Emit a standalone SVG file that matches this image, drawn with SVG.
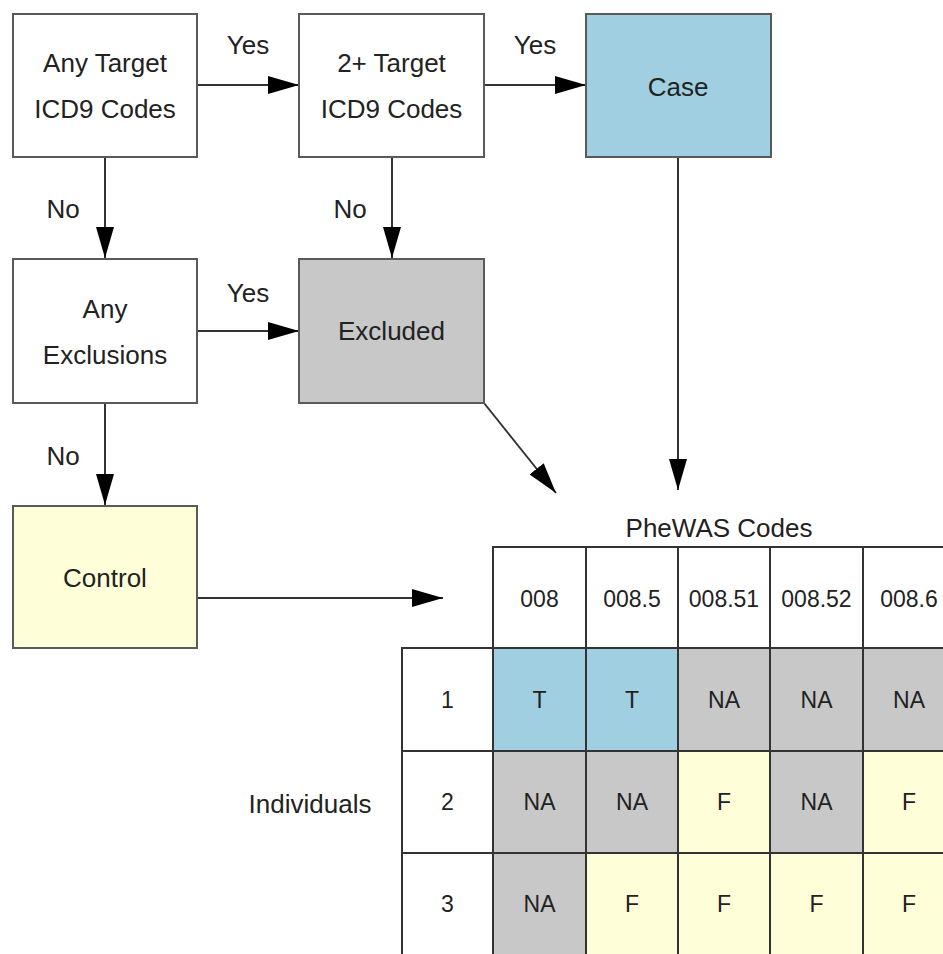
<svg xmlns="http://www.w3.org/2000/svg" width="943" height="954" viewBox="0 0 943 954">
<style>
text{font-family:"Liberation Sans",Arial,sans-serif;fill:#222;text-anchor:middle}
.t{font-size:26px}
.c{font-size:23px}
.box{stroke:#5a5a5a;stroke-width:2}
.white{fill:#ffffff}
.blue{fill:#9fcfe0}
.gray{fill:#c8c8c8}
.yellow{fill:#fefed9}
.conn{stroke:#333;stroke-width:2;fill:none;marker-end:url(#ah)}
.grid{stroke:#333;stroke-width:2}
</style>
<defs>
<marker id="ah" markerUnits="userSpaceOnUse" markerWidth="32" markerHeight="18" refX="31" refY="9" orient="auto">
<path d="M0,0 L31,9 L0,18 z" fill="#000"/>
</marker>
</defs>
<rect width="943" height="954" fill="#fff"/>

<g id="connectors">
<line class="conn" x1="197" y1="85" x2="299" y2="85"/>
<line class="conn" x1="484" y1="85" x2="586" y2="85"/>
<line class="conn" x1="105" y1="157" x2="105" y2="258"/>
<line class="conn" x1="392" y1="157" x2="392" y2="258"/>
<line class="conn" x1="197" y1="331" x2="299" y2="331"/>
<line class="conn" x1="105" y1="403" x2="105" y2="505"/>
<line class="conn" x1="197" y1="598" x2="443" y2="598"/>
<line class="conn" x1="484" y1="403" x2="556" y2="493"/>
<line class="conn" x1="678" y1="157" x2="678" y2="490"/>
<text class="t" x="248" y="54">Yes</text>
<text class="t" x="535" y="54">Yes</text>
<text class="t" x="63" y="218">No</text>
<text class="t" x="350" y="218">No</text>
<text class="t" x="248" y="302">Yes</text>
<text class="t" x="63" y="465">No</text>
</g>

<g id="any-target">
<rect class="box white" x="13" y="14" width="184" height="143"/>
<text class="t" x="105" y="72">Any Target</text>
<text class="t" x="105" y="118">ICD9 Codes</text>
</g>
<g id="two-target">
<rect class="box white" x="299" y="14" width="185" height="143"/>
<text class="t" x="391.5" y="72">2+ Target</text>
<text class="t" x="391.5" y="118">ICD9 Codes</text>
</g>
<g id="case">
<rect class="box blue" x="586" y="14" width="185" height="143"/>
<text class="t" x="678" y="96">Case</text>
</g>
<g id="any-exclusions">
<rect class="box white" x="13" y="259" width="184" height="144"/>
<text class="t" x="105" y="318">Any</text>
<text class="t" x="105" y="364">Exclusions</text>
</g>
<g id="excluded">
<rect class="box gray" x="299" y="259" width="185" height="144"/>
<text class="t" x="391.5" y="340">Excluded</text>
</g>
<g id="control">
<rect class="box yellow" x="13" y="506" width="184" height="142"/>
<text class="t" x="105" y="587">Control</text>
</g>

<g id="phewas-table">
<text class="t" x="719" y="537">PheWAS Codes</text>
<text class="t" x="310" y="813">Individuals</text>
<!-- header -->
<rect class="grid white" x="493" y="547" width="93" height="101"/>
<rect class="grid white" x="586" y="547" width="92" height="101"/>
<rect class="grid white" x="678" y="547" width="92" height="101"/>
<rect class="grid white" x="770" y="547" width="93" height="101"/>
<rect class="grid white" x="863" y="547" width="92" height="101"/>
<text class="c" x="539.5" y="607">008</text>
<text class="c" x="632" y="607">008.5</text>
<text class="c" x="724" y="607">008.51</text>
<text class="c" x="816.5" y="607">008.52</text>
<text class="c" x="909" y="607">008.6</text>
<!-- row labels -->
<rect class="grid white" x="402" y="648" width="91" height="103"/>
<rect class="grid white" x="402" y="751" width="91" height="102"/>
<rect class="grid white" x="402" y="853" width="91" height="110"/>
<text class="c" x="447.5" y="708">1</text>
<text class="c" x="447.5" y="810">2</text>
<text class="c" x="447.5" y="912">3</text>
<!-- row 1 -->
<rect class="grid blue" x="493" y="648" width="93" height="103"/>
<rect class="grid blue" x="586" y="648" width="92" height="103"/>
<rect class="grid gray" x="678" y="648" width="92" height="103"/>
<rect class="grid gray" x="770" y="648" width="93" height="103"/>
<rect class="grid gray" x="863" y="648" width="92" height="103"/>
<text class="c" x="539.5" y="708">T</text>
<text class="c" x="632" y="708">T</text>
<text class="c" x="724" y="708">NA</text>
<text class="c" x="816.5" y="708">NA</text>
<text class="c" x="909" y="708">NA</text>
<!-- row 2 -->
<rect class="grid gray" x="493" y="751" width="93" height="102"/>
<rect class="grid gray" x="586" y="751" width="92" height="102"/>
<rect class="grid yellow" x="678" y="751" width="92" height="102"/>
<rect class="grid gray" x="770" y="751" width="93" height="102"/>
<rect class="grid yellow" x="863" y="751" width="92" height="102"/>
<text class="c" x="539.5" y="810">NA</text>
<text class="c" x="632" y="810">NA</text>
<text class="c" x="724" y="810">F</text>
<text class="c" x="816.5" y="810">NA</text>
<text class="c" x="909" y="810">F</text>
<!-- row 3 -->
<rect class="grid gray" x="493" y="853" width="93" height="110"/>
<rect class="grid yellow" x="586" y="853" width="92" height="110"/>
<rect class="grid yellow" x="678" y="853" width="92" height="110"/>
<rect class="grid yellow" x="770" y="853" width="93" height="110"/>
<rect class="grid yellow" x="863" y="853" width="92" height="110"/>
<text class="c" x="539.5" y="912">NA</text>
<text class="c" x="632" y="912">F</text>
<text class="c" x="724" y="912">F</text>
<text class="c" x="816.5" y="912">F</text>
<text class="c" x="909" y="912">F</text>
</g>
</svg>
